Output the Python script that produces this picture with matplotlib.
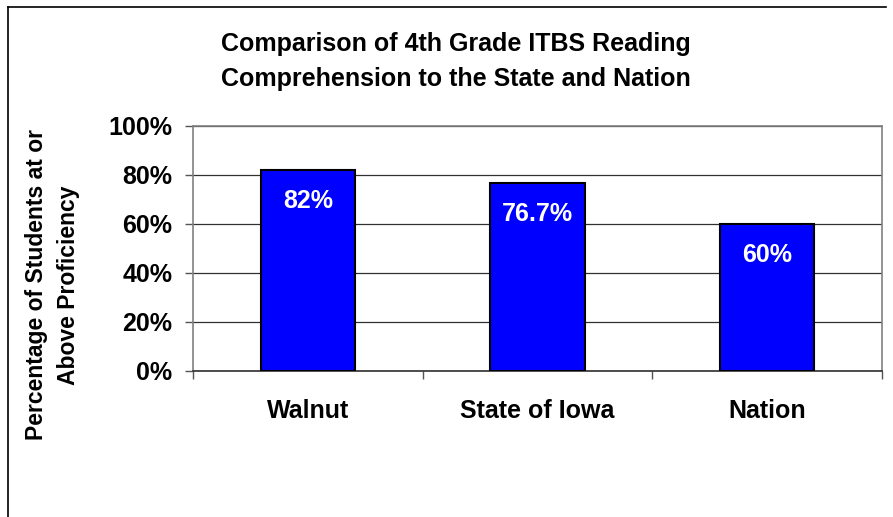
import matplotlib.pyplot as plt
from matplotlib.lines import Line2D

plt.rcParams['font.family'] = ['Liberation Sans', 'DejaVu Sans']
plt.rcParams['font.weight'] = 'bold'

categories = ['Walnut', 'State of Iowa', 'Nation']
values = [82, 76.7, 60]
bar_labels = ['82%', '76.7%', '60%']
y_ticks = [0, 20, 40, 60, 80, 100]
y_tick_labels = ['0%', '20%', '40%', '60%', '80%', '100%']

fig = plt.figure(figsize=(8.93, 5.17), dpi=100)
ax = fig.add_axes([0.2161, 0.2824, 0.7716, 0.4739])

x = list(range(len(categories)))
ax.bar(x, values, width=0.41, color='#0000FF', edgecolor='black', linewidth=1.5, zorder=3)
for xi, v, lab in zip(x, values, bar_labels):
    ax.annotate(lab, (xi, v), xytext=(0, -22), textcoords='offset points',
                ha='center', va='center', color='white', fontsize=18, fontweight='bold', zorder=4)

ax.set_xlim(-0.5, len(categories) - 0.5)
ax.set_ylim(0, 100)
ax.set_yticks(y_ticks)
ax.set_yticklabels(y_tick_labels, fontsize=18, fontweight='bold')
ax.yaxis.grid(True, color='#303030', linewidth=0.9, zorder=0)
ax.tick_params(axis='y', length=6, width=1, color='#555555', pad=9)

# category ticks at the boundaries, labels at the centres
ax.set_xticks([i + 0.5 for i in range(-1, len(categories))])
ax.set_xticklabels([])
ax.set_xticks(x, minor=True)
ax.set_xticklabels(categories, minor=True, fontsize=18, fontweight='bold')
ax.tick_params(axis='x', which='major', length=6, width=1, color='#555555')
ax.tick_params(axis='x', which='minor', length=0, pad=20)

for s in ax.spines.values():
    s.set_color('#808080')
    s.set_linewidth(1.2)
ax.spines['bottom'].set_color('#303030')

fig.text(0.511, 0.881, 'Comparison of 4th Grade ITBS Reading\nComprehension to the State and Nation',
         ha='center', va='center', fontsize=18, fontweight='bold', linespacing=1.6)
fig.text(0.059, 0.449, 'Percentage of Students at or\nAbove Proficiency', rotation=90,
         ha='center', va='center', fontsize=16.5, fontweight='bold', linespacing=1.5)

# outer frame (left and top edges visible)
fig.add_artist(Line2D([0.009, 0.009], [0, 0.986], transform=fig.transFigure, color='black', lw=1.2))
fig.add_artist(Line2D([0.009, 0.992], [0.986, 0.986], transform=fig.transFigure, color='black', lw=1.2))

fig.savefig('out.png', dpi=100)
